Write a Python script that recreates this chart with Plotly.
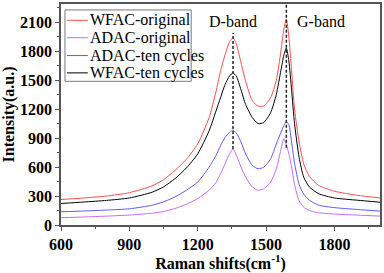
import plotly.graph_objects as go

raman_shift = [600, 700, 800, 900, 1000, 1050, 1100, 1150, 1200, 1250, 1280, 1300, 1320, 1340,
               1355, 1370, 1390, 1410, 1440, 1465, 1490, 1520, 1545, 1565, 1578, 1589, 1600,
               1612, 1625, 1645, 1665, 1690, 1730, 1800, 1900, 2000]

wfac_original = [264, 280, 300, 335, 405, 470, 565, 680, 840, 1113, 1380, 1593, 1764, 1900,
                 1940, 1870, 1680, 1490, 1285, 1233, 1233, 1318, 1500, 1800, 2030, 2134, 1950,
                 1600, 1200, 860, 634, 505, 411, 350, 308, 281]

adac_original = [75, 83, 92, 103, 122, 140, 171, 215, 274, 360, 440, 531, 634, 740,
                 788, 720, 600, 497, 394, 360, 377, 445, 583, 780, 895, 830, 740,
                 600, 420, 250, 185, 150, 127, 113, 103, 92]

adac_ten = [137, 145, 155, 168, 205, 240, 291, 360, 445, 599, 720, 822, 907, 960,
            983, 950, 860, 737, 617, 583, 599, 685, 840, 959, 1030, 1072, 1040,
            860, 640, 420, 320, 257, 206, 180, 161, 144]

wfac_ten = [223, 238, 255, 280, 340, 395, 480, 590, 737, 976, 1180, 1318, 1456, 1545,
            1576, 1540, 1400, 1250, 1113, 1051, 1062, 1164, 1353, 1600, 1760, 1833, 1700,
            1400, 1050, 700, 497, 395, 325, 280, 257, 236]

series_names = ["WFAC-original", "ADAC-original", "ADAC-ten cycles", "WFAC-ten cycles"]
series_values = [wfac_original, adac_original, adac_ten, wfac_ten]
series_colors = ["#ff4d4d", "#cc66ff", "#5a5aff", "#000000"]

band_labels = ["D-band", "G-band"]
band_positions = [1355, 1589]
band_line_bottom = [788, 800]
band_line_top = [1990, 2290]
band_label_x = [1355, 1739]
band_label_y = 2110

x_ticks = [600, 900, 1200, 1500, 1800]
y_ticks = [0, 300, 600, 900, 1200, 1500, 1800, 2100]

serif = "Liberation Serif, Times New Roman, serif"

W, H = 384, 273
ML, MR, MT, MB = 61, 2, 2, 48
PW, PH = W - ML - MR, H - MT - MB


def px_to_paper_x(px):
    return (px - ML) / PW


def py_to_paper_y(py):
    return (H - MB - py) / PH


fig = go.Figure()
for name, vals, col in zip(series_names, series_values, series_colors):
    fig.add_trace(go.Scatter(x=raman_shift, y=vals, mode="lines", name=name, showlegend=False,
                             line=dict(color=col, width=1, shape="spline", smoothing=0.6)))

for pos, lo, hi in zip(band_positions, band_line_bottom, band_line_top):
    fig.add_shape(type="line", x0=pos, x1=pos, y0=lo, y1=hi, xref="x", yref="y",
                  line=dict(color="#222222", width=1.5, dash="3px,2px"))

for lab, lx in zip(band_labels, band_label_x):
    fig.add_annotation(x=lx, y=band_label_y, text=lab, showarrow=False, xref="x", yref="y",
                       font=dict(family=serif, size=16, color="black"))

# legend box (drawn manually to match short sample lines)
fig.add_shape(type="rect", xref="paper", yref="paper",
              x0=px_to_paper_x(65), x1=px_to_paper_x(192),
              y0=py_to_paper_y(80), y1=py_to_paper_y(8),
              line=dict(color="#777777", width=1), fillcolor="white", layer="above")
row_y = [18.5, 36, 54, 71.5]
for name, col, ry in zip(series_names, series_colors, row_y):
    fig.add_shape(type="line", xref="paper", yref="paper",
                  x0=px_to_paper_x(67), x1=px_to_paper_x(88),
                  y0=py_to_paper_y(ry), y1=py_to_paper_y(ry),
                  line=dict(color=col, width=1), layer="above")
    fig.add_annotation(xref="paper", yref="paper", x=px_to_paper_x(88), y=py_to_paper_y(ry),
                       xanchor="left", yanchor="middle", text=name, showarrow=False,
                       font=dict(family=serif, size=16, color="black"))

axis_common = dict(showline=True, linecolor="#555555", linewidth=1.5, mirror=True,
                   ticks="outside", ticklen=4, tickcolor="#555555", tickwidth=1,
                   showgrid=False, zeroline=False,
                   tickfont=dict(family=serif, size=16, color="black"),
                   minor=dict(ticks="outside", ticklen=2, tickcolor="#555555"))

fig.update_xaxes(range=[600, 2000], tickvals=x_ticks,
                 ticktext=["<b>%d</b>" % v for v in x_ticks], **axis_common,
                 title=dict(text="<b>Raman shifts(cm<sup>-1</sup>)</b>",
                            font=dict(family=serif, size=16, color="black"), standoff=2))
fig.update_yaxes(range=[0, 2290], tickvals=y_ticks,
                 ticktext=["<b>%d</b>" % v for v in y_ticks], **axis_common,
                 title=dict(text="<b>Intensity(a.u.)</b>",
                            font=dict(family=serif, size=16, color="black"), standoff=3))
fig.update_xaxes(minor=dict(tickvals=[750, 1050, 1350, 1650, 1950]))
fig.update_yaxes(minor=dict(tickvals=[150, 450, 750, 1050, 1350, 1650, 1950, 2250]))

fig.update_layout(
    width=W, height=H,
    margin=dict(l=ML, r=MR, t=MT, b=MB),
    paper_bgcolor="white", plot_bgcolor="white",
    showlegend=False,
)

fig.write_html("out.html", config={"displayModeBar": False},
               post_script="document.body.style.margin='0';document.body.style.padding='0';")
